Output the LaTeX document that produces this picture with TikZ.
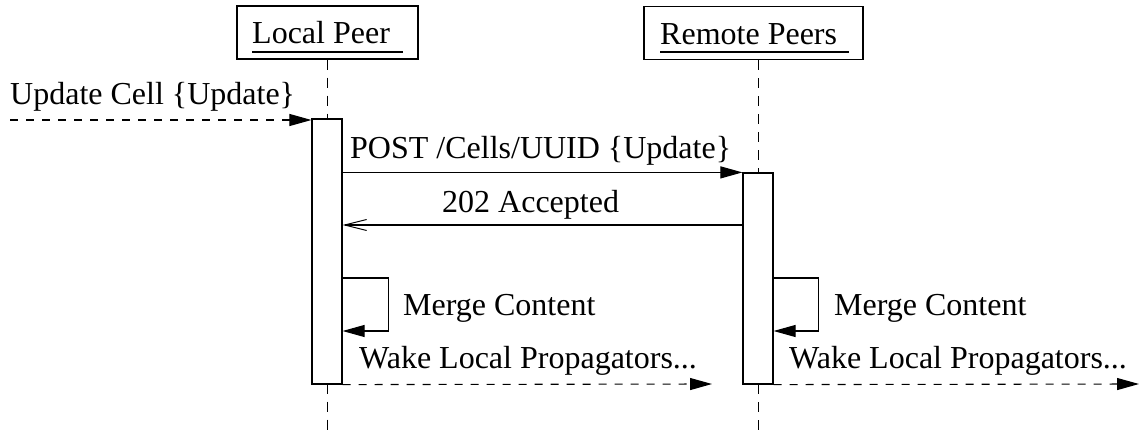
\documentclass[tikz,border=0pt]{standalone}
\usepackage{fontspec}
\setmainfont{Liberation Serif}
\usetikzlibrary{arrows.meta}
\begin{document}
\begin{tikzpicture}[x=1pt,y=-1pt,
  every node/.style={font=\fontsize{32}{38}\selectfont},
  txt/.style={inner sep=0pt,anchor=base west},
  headbox/.style={draw,line width=1.2pt,inner sep=0pt,minimum height=53pt},
  actbar/.style={draw,fill=white,line width=1.2pt,inner sep=0pt,minimum width=30pt},
  lifeline/.style={line width=1pt,dash pattern=on 10pt off 8pt},
  call/.style={line width=1.1pt,-{Triangle[length=22pt,width=12pt]}},
  reply/.style={line width=1.1pt,-{Straight Barb[length=22pt,width=11pt,line width=1pt]}},
  signal/.style={line width=1.1pt,dash pattern=on 8pt off 8pt,-{Triangle[length=22pt,width=12pt]}}]
\useasboundingbox (0,0) rectangle (1140,431);

% participants
\node[headbox,minimum width=181pt] (lp) at (327.5,32.5) {};
\node[headbox,minimum width=219pt] (rp) at (753.5,33) {};
\node[txt] (lpt) at (252,43) {Local Peer};
\node[txt] (rpt) at (660,44) {Remote Peers};
\draw[line width=1.1pt] (252,52) -- (403,52);
\draw[line width=1.1pt] (660,52) -- (849,52);

% lifelines
\coordinate (lpend) at (327,431);
\coordinate (rpend) at (758,431);
\draw[lifeline] (lp.south -| lpend) -- (lpend);
\draw[lifeline] (rp.south -| rpend) -- (rpend);

% activation bars
\node[actbar,minimum height=265pt] (lbar) at (327,251.5) {};
\node[actbar,minimum height=211pt] (rbar) at (758,278.5) {};

% incoming request
\coordinate (ustart) at (10,120);
\draw[signal] (ustart) -- (ustart -| lbar.west);
\node[txt] (ut) at (10,104) {Update Cell \{Update\}};

% POST and acknowledgement
\draw[call] (rbar.north west -| lbar.east) -- (rbar.north west);
\node[txt] (postt) at (350,158) {POST /Cells/UUID \{Update\}};
\coordinate (ack) at (0,225);
\draw[reply] (ack -| rbar.west) -- (ack -| lbar.east);
\node[txt] (ackt) at (442,212) {202 Accepted};

% local merge
\coordinate (mtop) at (0,278);
\coordinate (mbot) at (0,331);
\draw[call] (mtop -| lbar.east) -- ++(46,0) |- (mbot -| lbar.east);
\node[txt] (lmt) at (403,315) {Merge Content};
\node[txt] (lwt) at (359,368) {Wake Local Propagators...};
\coordinate (lwend) at (712,384);
\draw[signal] (lbar.south east) -- (lwend);

% remote merge
\draw[call] (mtop -| rbar.east) -- ++(45,0) |- (mbot -| rbar.east);
\node[txt] (rmt) at (834,315) {Merge Content};
\node[txt] (rwt) at (789,368) {Wake Local Propagators...};
\coordinate (rwend) at (1139,384);
\draw[signal] (rbar.south east) -- (rwend);
\end{tikzpicture}
\end{document}
